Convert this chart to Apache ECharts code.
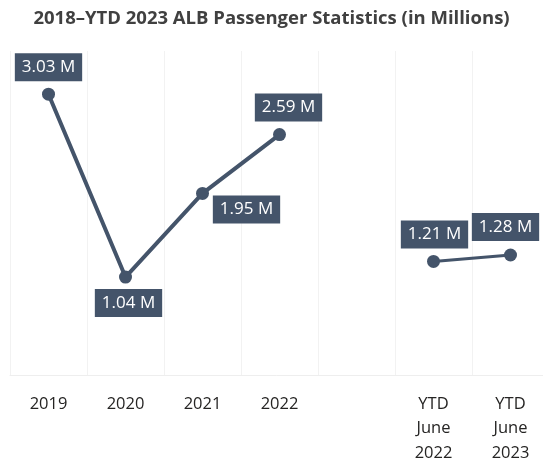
<!DOCTYPE html>
<html>
<head>
<meta charset="utf-8">
<script src="https://cdn.jsdelivr.net/npm/echarts@6/dist/echarts.min.js"></script>
<style>
  html, body { margin: 0; padding: 0; background: #fff; }
  #main { width: 543px; height: 463px; }
</style>
</head>
<body>
<div id="main"></div>
<script>
// categories (blank slot separates the full years from the YTD pair)
var categories = ['2019', '2020', '2021', '2022', '', 'YTD\nJune\n2022', 'YTD\nJune\n2023'];
// passengers, millions
var annualValues = [3.03, 1.04, 1.95, 2.59, null, null, null];
var ytdValues = [null, null, null, null, null, 1.21, 1.28];

var navy = '#44546A';
var chart = echarts.init(document.getElementById('main'));

// where each box sits relative to its point
var annualOffsets = [[0, -27], [3, 26], [44, 16], [9, -27]];
var ytdOffsets = {5: [1, -27], 6: [-5, -28]};

function labelBox(offset) {
  return {
    show: true,
    position: 'inside',
    offset: offset,
    formatter: function (p) { return p.value.toFixed(2) + ' M'; },
    color: '#fff',
    fontFamily: 'Open Sans',
    fontSize: 17,
    backgroundColor: navy,
    padding: [6, 7, 5, 7]
  };
}

function buildData(values, offsets) {
  var out = [];
  for (var i = 0; i < values.length; i++) {
    if (values[i] == null) { out.push(null); continue; }
    out.push({ value: values[i], label: labelBox(offsets[i]) });
  }
  return out;
}

var option = {
  animation: false,
  title: {
    text: '2018\u2013YTD 2023 ALB Passenger Statistics (in Millions)',
    left: 'center',
    top: 4,
    textStyle: { fontFamily: 'Open Sans', fontWeight: 'bold', fontSize: 18.5, color: '#404040' }
  },
  // plot runs slightly past the right edge, as in the original
  grid: { left: 10, width: 539, top: 51, bottom: 88, containLabel: false, outerBoundsMode: 'none' },
  xAxis: {
    type: 'category',
    data: categories,
    boundaryGap: true,
    axisLine: { onZero: false, lineStyle: { color: '#eeeeee' } },
    axisTick: { length: 5, lineStyle: { color: '#eeeeee' } },
    splitLine: { show: true, lineStyle: { color: '#f2f2f2' } },
    axisLabel: {
      interval: 0,
      color: '#252423',
      fontFamily: 'Open Sans',
      fontSize: 16.5,
      lineHeight: 24.5,
      margin: 17
    }
  },
  yAxis: {
    type: 'value',
    min: -0.026,
    max: 3.5,
    show: false,
    splitLine: { show: false }
  },
  series: [
    {
      type: 'line',
      data: buildData(annualValues, annualOffsets),
      connectNulls: false,
      symbol: 'circle',
      symbolSize: 13,
      itemStyle: { color: navy },
      lineStyle: { color: navy, width: 4 }
    },
    {
      type: 'line',
      data: buildData(ytdValues, ytdOffsets),
      connectNulls: false,
      symbol: 'circle',
      symbolSize: 13,
      itemStyle: { color: navy },
      lineStyle: { color: navy, width: 3 }
    }
  ]
};
chart.setOption(option);
</script>
</body>
</html>
